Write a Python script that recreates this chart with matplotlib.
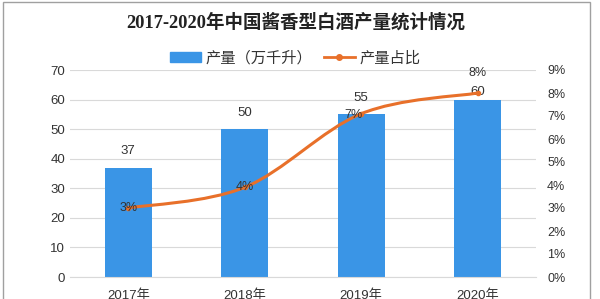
import numpy as np
import matplotlib.pyplot as plt
from matplotlib.path import Path
from matplotlib.patches import PathPatch, Rectangle
from matplotlib.lines import Line2D

plt.rcParams['font.family'] = ['Liberation Sans', 'Noto Sans CJK SC']

#data
years = ['2017年', '2018年', '2019年', '2020年']
output = [37, 50, 55, 60]          # 万千升
share = [3.0, 3.9, 7.1, 8.0]       # %
share_labels = ['3%', '4%', '7%', '8%']

bar_color = '#3a95e6'
line_color = '#e8702a'
text_color = '#333333'

fig = plt.figure(figsize=(6, 2.99), dpi=100)
ax = fig.add_axes([70/600, 1-277/299, 466/600, 207/299])
ax2 = ax.twinx()

x = np.arange(len(years))
ax.bar(x, output, width=0.4, color=bar_color, zorder=2)
ax.set_ylim(0, 70)
ax.set_yticks(range(0, 71, 10))
ax.set_xlim(-0.5, len(years)-0.5)
ax.set_xticks(x)
ax.set_xticklabels(years)
ax.grid(axis='y', color='#d9d9d9', lw=0.8, zorder=0)
ax.tick_params(axis='both', length=0, labelsize=9.5, colors=text_color)
ax.tick_params(axis='x', pad=9)
for s in ax.spines.values():
    s.set_visible(False)
ax.spines['bottom'].set_visible(True)
ax.spines['bottom'].set_color('#d9d9d9')

bar_offsets = [5.5, 5.5, 5.5, 2.6]
for xi, v, dy in zip(x, output, bar_offsets):
    ax.text(xi, v + dy, str(v), ha='center', va='center', fontsize=9.5, color=text_color, zorder=5)

#smooth line (excel-like bezier between the points)
ax2.set_ylim(0, 9)
ax2.set_yticks(range(0, 10))
ax2.set_yticklabels([f'{i}%' for i in range(10)])
ax2.tick_params(axis='y', length=0, labelsize=9, colors=text_color, pad=8)
for s in ax2.spines.values():
    s.set_visible(False)

pts = np.column_stack([x, share]).astype(float)
verts = [pts[0]]
codes = [Path.MOVETO]
n = len(pts)
for i in range(n-1):
    p0 = pts[max(i-1, 0)]
    p1 = pts[i]
    p2 = pts[i+1]
    p3 = pts[min(i+2, n-1)]
    c1 = p1 + (p2 - p0) / 6
    c2 = p2 - (p3 - p1) / 6
    verts += [c1, c2, p2]
    codes += [Path.CURVE4]*3
ax2.add_patch(PathPatch(Path(verts, codes), fill=False, edgecolor=line_color, lw=2.2, zorder=3))
ax2.plot(x, share, 'o', color=line_color, ms=3, zorder=4)

offsets = [(0, 0), (0, 0), (-0.07, -0.05), (0, 0.87)]
for xi, v, lab, (dx, dy) in zip(x, share, share_labels, offsets):
    ax2.text(xi + dx, v + dy, lab, ha='center', va='center', fontsize=9, color=text_color, zorder=5)

#title and legend
fig.text(0.493, 1-22/299, '2017-2020年中国酱香型白酒产量统计情况', ha='center', va='center',
         fontsize=13.3, fontweight='bold', color='#222222',
         family=['Liberation Serif', 'Noto Sans CJK SC'])
handles = [Rectangle((0, 0), 1, 1, color=bar_color),
           Line2D([0], [0], color=line_color, lw=2, marker='o', ms=4)]
fig.legend(handles, ['产量（万千升）', '产量占比'], loc='center', bbox_to_anchor=(0.492, 1-58/299),
           ncol=2, frameon=False, fontsize=11, handlelength=2.0, columnspacing=0.8,
           handletextpad=0.3, labelcolor=text_color)

#outer frame
fig.patches.append(Rectangle((3/600, -0.05), 587/600, 1.05 - 2/299, transform=fig.transFigure,
                             fill=False, edgecolor='#a0a0a0', lw=1))

fig.savefig('out.png', dpi=100)
